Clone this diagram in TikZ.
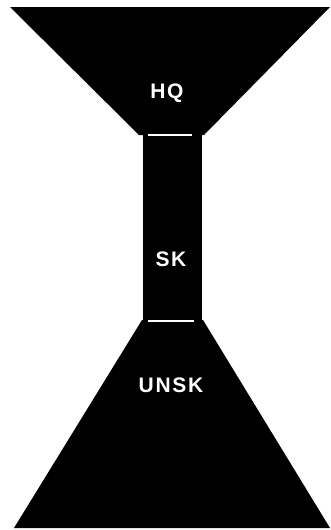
\documentclass[tikz,border=0pt]{standalone}
\usepackage{fontspec}
\setmainfont{Liberation Sans}[LetterSpace=8]
\begin{document}
\begin{tikzpicture}[x=1pt,y=-1pt,
  blackpart/.style={fill=black,draw=none},
  bar/.style={draw=white,line width=2.2pt},
  lbl/.style={text=white,font=\bfseries\fontsize{21}{23}\selectfont,inner sep=0pt}]
\useasboundingbox (0,0) rectangle (330,530);
% top trapezoid
\fill[blackpart] (10,7) -- (330,7) -- (204,135) -- (139,135) -- cycle;
% stem
\fill[blackpart] (143,134) rectangle (202,322);
% bottom trapezoid
\fill[blackpart] (142,320) -- (203,320) -- (330,528) -- (14,528) -- cycle;
% white bars
\coordinate (b1l) at (148,135);
\coordinate (b1r) at (192,135);
\coordinate (b2l) at (148,321);
\coordinate (b2r) at (194,321);
\draw[bar] (b1l) -- (b1r);
\draw[bar] (b2l) -- (b2r);
% labels
\node[lbl] (hq) at (167,93) {HQ};
\node[lbl] (sk) at (171,259) {SK};
\node[lbl] (unsk) at (171,385) {UNSK};
\end{tikzpicture}
\end{document}
